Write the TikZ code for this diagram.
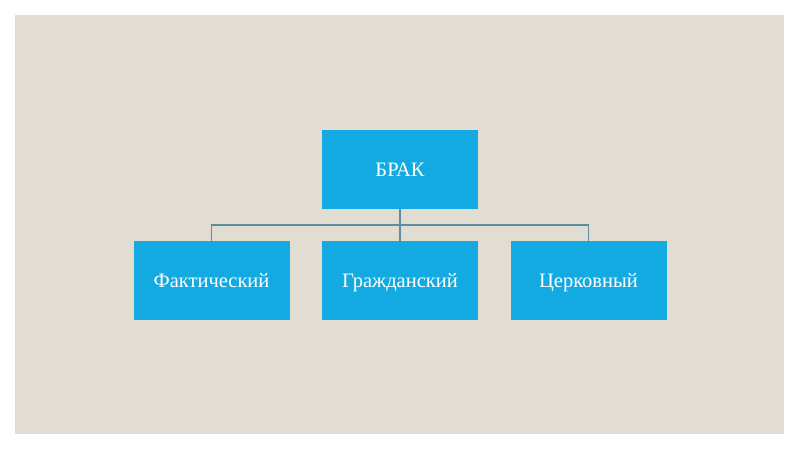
\documentclass[tikz,border=0pt]{standalone}
\usepackage{fontspec}
\setmainfont{Liberation Serif}
\definecolor{bg}{RGB}{226,221,210}
\definecolor{boxfill}{RGB}{19,170,226}
\definecolor{conn}{RGB}{94,140,160}
\begin{document}
\begin{tikzpicture}[x=1pt,y=-1pt,
  box/.style={draw=none,fill=boxfill,minimum width=156pt,minimum height=79pt,
    inner sep=0pt,text=white,font=\fontsize{20.5}{24}\selectfont,
    text height=16pt,text depth=2pt},
  link/.style={draw=conn,line width=1.1pt}]
\useasboundingbox (0,0) rectangle (800,450);
\fill[white] (0,0) rectangle (800,450);
\fill[bg] (15,15) rectangle (784,434);
\node[box] (brak) at (400,169.5) {БРАК};
\node[box] (fact) at (211.5,280.5) {Фактический};
\node[box] (grazh) at (400,280.5) {Гражданский};
\node[box] (cerk) at (588.5,280.5) {Церковный};
\coordinate (mid) at (400,225);
\draw[link] (brak.south) -- (mid);
\draw[link] (mid) -| (fact.north);
\draw[link] (mid) -| (cerk.north);
\draw[link] (mid) -- (grazh.north);
\end{tikzpicture}
\end{document}
